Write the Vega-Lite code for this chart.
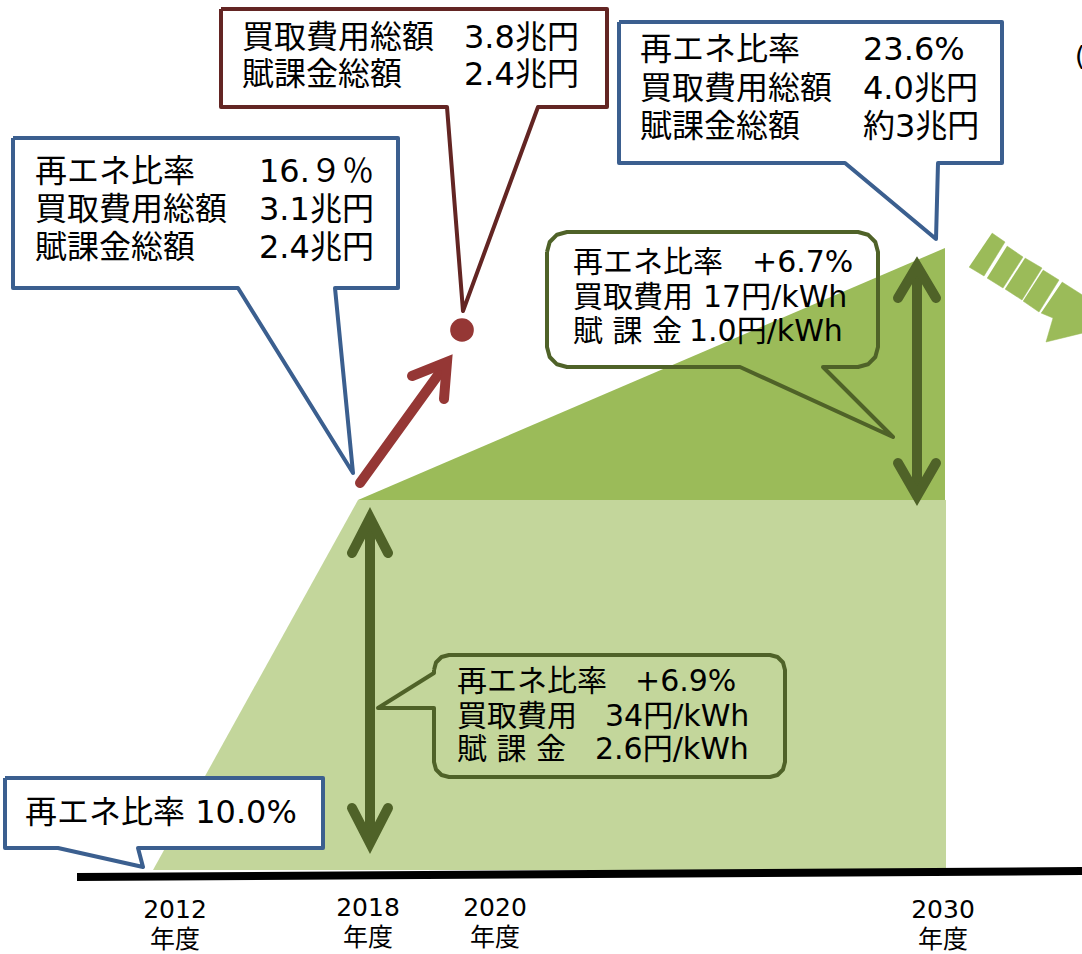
{
  "$schema": "https://vega.github.io/schema/vega-lite/v6.json",
  "width": 1082,
  "height": 954,
  "autosize": {"type": "fit", "contains": "padding"},
  "padding": 0,
  "background": "white",
  "config": {"view": {"stroke": null}},
  "datasets": {
    "areas": [
      {"region": "base", "x": 153, "y": 870, "y2": 870},
      {"region": "base", "x": 358, "y": 500, "y2": 870},
      {"region": "base", "x": 946, "y": 500, "y2": 870},
      {"region": "growth", "x": 358, "y": 500, "y2": 500},
      {"region": "growth", "x": 945, "y": 248, "y2": 500}
    ],
    "baseline": [
      {"x": 77, "y": 877},
      {"x": 1082, "y": 871}
    ],
    "chevron": [
      {"id": "s1", "i": 1, "x": 992, "y": 233}, {"id": "s1", "i": 2, "x": 1005, "y": 242}, {"id": "s1", "i": 3, "x": 984, "y": 276}, {"id": "s1", "i": 4, "x": 969, "y": 267},
      {"id": "s2", "i": 1, "x": 1007, "y": 246}, {"id": "s2", "i": 2, "x": 1023, "y": 257}, {"id": "s2", "i": 3, "x": 1003, "y": 288}, {"id": "s2", "i": 4, "x": 987, "y": 278},
      {"id": "s3", "i": 1, "x": 1025, "y": 258}, {"id": "s3", "i": 2, "x": 1042, "y": 268}, {"id": "s3", "i": 3, "x": 1022, "y": 300}, {"id": "s3", "i": 4, "x": 1005, "y": 289},
      {"id": "s4", "i": 1, "x": 1043, "y": 270}, {"id": "s4", "i": 2, "x": 1059, "y": 280}, {"id": "s4", "i": 3, "x": 1039, "y": 312}, {"id": "s4", "i": 4, "x": 1023, "y": 301},
      {"id": "s5", "i": 1, "x": 1062, "y": 282}, {"id": "s5", "i": 2, "x": 1095, "y": 303}, {"id": "s5", "i": 3, "x": 1095, "y": 330}, {"id": "s5", "i": 4, "x": 1046, "y": 342}, {"id": "s5", "i": 5, "x": 1053, "y": 318}, {"id": "s5", "i": 6, "x": 1041, "y": 313}
    ],
    "callouts": [
      {"id": "c2018", "kind": "milestone", "i": 1, "x": 13, "y": 138}, {"id": "c2018", "kind": "milestone", "i": 2, "x": 398, "y": 138}, {"id": "c2018", "kind": "milestone", "i": 3, "x": 398, "y": 288}, {"id": "c2018", "kind": "milestone", "i": 4, "x": 335, "y": 288}, {"id": "c2018", "kind": "milestone", "i": 5, "x": 353, "y": 473}, {"id": "c2018", "kind": "milestone", "i": 6, "x": 238, "y": 288}, {"id": "c2018", "kind": "milestone", "i": 7, "x": 13, "y": 288}, {"id": "c2018", "kind": "milestone", "i": 8, "x": 13, "y": 138},
      {"id": "c2030", "kind": "milestone", "i": 1, "x": 619, "y": 22}, {"id": "c2030", "kind": "milestone", "i": 2, "x": 1002, "y": 22}, {"id": "c2030", "kind": "milestone", "i": 3, "x": 1002, "y": 163}, {"id": "c2030", "kind": "milestone", "i": 4, "x": 938, "y": 163}, {"id": "c2030", "kind": "milestone", "i": 5, "x": 936, "y": 239}, {"id": "c2030", "kind": "milestone", "i": 6, "x": 845, "y": 163}, {"id": "c2030", "kind": "milestone", "i": 7, "x": 619, "y": 163}, {"id": "c2030", "kind": "milestone", "i": 8, "x": 619, "y": 22},
      {"id": "c2012", "kind": "milestone", "i": 1, "x": 5, "y": 778}, {"id": "c2012", "kind": "milestone", "i": 2, "x": 323, "y": 778}, {"id": "c2012", "kind": "milestone", "i": 3, "x": 323, "y": 848}, {"id": "c2012", "kind": "milestone", "i": 4, "x": 138, "y": 848}, {"id": "c2012", "kind": "milestone", "i": 5, "x": 143, "y": 867}, {"id": "c2012", "kind": "milestone", "i": 6, "x": 58, "y": 848}, {"id": "c2012", "kind": "milestone", "i": 7, "x": 5, "y": 848}, {"id": "c2012", "kind": "milestone", "i": 8, "x": 5, "y": 778},
      {"id": "c2020", "kind": "estimate", "i": 1, "x": 221, "y": 9}, {"id": "c2020", "kind": "estimate", "i": 2, "x": 607, "y": 9}, {"id": "c2020", "kind": "estimate", "i": 3, "x": 607, "y": 107}, {"id": "c2020", "kind": "estimate", "i": 4, "x": 538, "y": 107}, {"id": "c2020", "kind": "estimate", "i": 5, "x": 463, "y": 311}, {"id": "c2020", "kind": "estimate", "i": 6, "x": 447, "y": 107}, {"id": "c2020", "kind": "estimate", "i": 7, "x": 221, "y": 107}, {"id": "c2020", "kind": "estimate", "i": 8, "x": 221, "y": 9}
    ],
    "notes": [
      {"id": "n1", "i": 1, "x": 547, "y": 252}, {"id": "n1", "i": 2, "x": 549.7, "y": 242}, {"id": "n1", "i": 3, "x": 557, "y": 234.7}, {"id": "n1", "i": 4, "x": 567, "y": 232},
      {"id": "n1", "i": 5, "x": 858, "y": 232}, {"id": "n1", "i": 6, "x": 868, "y": 234.7}, {"id": "n1", "i": 7, "x": 875.3, "y": 242}, {"id": "n1", "i": 8, "x": 878, "y": 252},
      {"id": "n1", "i": 9, "x": 878, "y": 347}, {"id": "n1", "i": 10, "x": 875.3, "y": 357}, {"id": "n1", "i": 11, "x": 868, "y": 364.3}, {"id": "n1", "i": 12, "x": 858, "y": 367},
      {"id": "n1", "i": 13, "x": 823, "y": 367}, {"id": "n1", "i": 14, "x": 893, "y": 437}, {"id": "n1", "i": 15, "x": 740, "y": 367},
      {"id": "n1", "i": 16, "x": 567, "y": 367}, {"id": "n1", "i": 17, "x": 557, "y": 364.3}, {"id": "n1", "i": 18, "x": 549.7, "y": 357}, {"id": "n1", "i": 19, "x": 547, "y": 347}, {"id": "n1", "i": 20, "x": 547, "y": 252},
      {"id": "n2", "i": 1, "x": 434, "y": 670}, {"id": "n2", "i": 2, "x": 436, "y": 662.5}, {"id": "n2", "i": 3, "x": 441.5, "y": 657}, {"id": "n2", "i": 4, "x": 449, "y": 655},
      {"id": "n2", "i": 5, "x": 770, "y": 655}, {"id": "n2", "i": 6, "x": 777.5, "y": 657}, {"id": "n2", "i": 7, "x": 783, "y": 662.5}, {"id": "n2", "i": 8, "x": 785, "y": 670},
      {"id": "n2", "i": 9, "x": 785, "y": 762}, {"id": "n2", "i": 10, "x": 783, "y": 769.5}, {"id": "n2", "i": 11, "x": 777.5, "y": 775}, {"id": "n2", "i": 12, "x": 770, "y": 777},
      {"id": "n2", "i": 13, "x": 449, "y": 777}, {"id": "n2", "i": 14, "x": 441.5, "y": 775}, {"id": "n2", "i": 15, "x": 436, "y": 769.5}, {"id": "n2", "i": 16, "x": 434, "y": 762},
      {"id": "n2", "i": 17, "x": 434, "y": 708}, {"id": "n2", "i": 18, "x": 378, "y": 708}, {"id": "n2", "i": 19, "x": 434, "y": 673}, {"id": "n2", "i": 20, "x": 434, "y": 670}
    ],
    "arrows": [
      {"id": "g1s", "kind": "increase", "i": 1, "x": 370, "y": 525}, {"id": "g1s", "kind": "increase", "i": 2, "x": 370, "y": 836},
      {"id": "g1t", "kind": "increase", "i": 1, "x": 352, "y": 553}, {"id": "g1t", "kind": "increase", "i": 2, "x": 370, "y": 518}, {"id": "g1t", "kind": "increase", "i": 3, "x": 388, "y": 553},
      {"id": "g1b", "kind": "increase", "i": 1, "x": 352, "y": 808}, {"id": "g1b", "kind": "increase", "i": 2, "x": 370, "y": 843}, {"id": "g1b", "kind": "increase", "i": 3, "x": 388, "y": 808},
      {"id": "g2s", "kind": "increase", "i": 1, "x": 917, "y": 272}, {"id": "g2s", "kind": "increase", "i": 2, "x": 917, "y": 490},
      {"id": "g2t", "kind": "increase", "i": 1, "x": 898, "y": 298}, {"id": "g2t", "kind": "increase", "i": 2, "x": 917, "y": 266}, {"id": "g2t", "kind": "increase", "i": 3, "x": 936, "y": 298},
      {"id": "g2b", "kind": "increase", "i": 1, "x": 898, "y": 463}, {"id": "g2b", "kind": "increase", "i": 2, "x": 917, "y": 496}, {"id": "g2b", "kind": "increase", "i": 3, "x": 936, "y": 463},
      {"id": "rs", "kind": "estimate", "i": 1, "x": 360, "y": 483}, {"id": "rs", "kind": "estimate", "i": 2, "x": 446, "y": 364},
      {"id": "rh", "kind": "estimate", "i": 1, "x": 412, "y": 376}, {"id": "rh", "kind": "estimate", "i": 2, "x": 447, "y": 362}, {"id": "rh", "kind": "estimate", "i": 3, "x": 444, "y": 399}
    ],
    "dot": [{"x": 462, "y": 330}],
    "labels": [
      {"group": "box", "x": 35, "y": 172, "text": "再エネ比率"}, {"group": "box", "x": 259, "y": 172, "text": "16.９％"},
      {"group": "box", "x": 35, "y": 210, "text": "買取費用総額"}, {"group": "box", "x": 259, "y": 210, "text": "3.1兆円"},
      {"group": "box", "x": 35, "y": 248, "text": "賦課金総額"}, {"group": "box", "x": 259, "y": 248, "text": "2.4兆円"},
      {"group": "box", "x": 640, "y": 50, "text": "再エネ比率"}, {"group": "box", "x": 863, "y": 50, "text": "23.6%"},
      {"group": "box", "x": 640, "y": 89, "text": "買取費用総額"}, {"group": "box", "x": 863, "y": 89, "text": "4.0兆円"},
      {"group": "box", "x": 640, "y": 127, "text": "賦課金総額"}, {"group": "box", "x": 863, "y": 127, "text": "約3兆円"},
      {"group": "box", "x": 242, "y": 38, "text": "買取費用総額"}, {"group": "box", "x": 464, "y": 38, "text": "3.8兆円"},
      {"group": "box", "x": 242, "y": 75, "text": "賦課金総額"}, {"group": "box", "x": 464, "y": 75, "text": "2.4兆円"},
      {"group": "box", "x": 25, "y": 813, "text": "再エネ比率 10.0%"},
      {"group": "note", "x": 573, "y": 263, "text": "再エネ比率"}, {"group": "note", "x": 752, "y": 263, "text": "+6.7%"},
      {"group": "note", "x": 573, "y": 298, "text": "買取費用"}, {"group": "note", "x": 703, "y": 298, "text": "17円/kWh"},
      {"group": "note", "x": 573, "y": 332, "text": "賦 課 金"}, {"group": "note", "x": 689, "y": 332, "text": "1.0円/kWh"},
      {"group": "note", "x": 457, "y": 682, "text": "再エネ比率"}, {"group": "note", "x": 635, "y": 682, "text": "+6.9%"},
      {"group": "note", "x": 457, "y": 717, "text": "買取費用"}, {"group": "note", "x": 605, "y": 717, "text": "34円/kWh"},
      {"group": "note", "x": 457, "y": 750, "text": "賦 課 金"}, {"group": "note", "x": 595, "y": 750, "text": "2.6円/kWh"},
      {"group": "axis", "x": 175, "y": 910, "text": "2012"}, {"group": "axis", "x": 175, "y": 940, "text": "年度"},
      {"group": "axis", "x": 368, "y": 908, "text": "2018"}, {"group": "axis", "x": 368, "y": 938, "text": "年度"},
      {"group": "axis", "x": 495, "y": 908, "text": "2020"}, {"group": "axis", "x": 495, "y": 938, "text": "年度"},
      {"group": "axis", "x": 943, "y": 910, "text": "2030"}, {"group": "axis", "x": 943, "y": 940, "text": "年度"},
      {"group": "edge", "x": 1075, "y": 57, "text": "("}
    ]
  },
  "layer": [
    {
      "data": {"name": "areas"},
      "transform": [{"filter": "datum.region == 'base'"}],
      "mark": {"type": "area", "color": "#c3d69b", "clip": true},
      "encoding": {
        "x": {"field": "x", "type": "quantitative", "scale": {"domain": [0, 1082], "nice": false, "zero": false}, "axis": null},
        "y": {"field": "y", "type": "quantitative", "scale": {"domain": [0, 954], "nice": false, "zero": false, "reverse": true}, "axis": null},
        "y2": {"field": "y2"}
      }
    },
    {
      "data": {"name": "areas"},
      "transform": [{"filter": "datum.region == 'growth'"}],
      "mark": {"type": "area", "color": "#9bbb59", "clip": true},
      "encoding": {
        "x": {"field": "x", "type": "quantitative", "axis": null},
        "y": {"field": "y", "type": "quantitative", "axis": null},
        "y2": {"field": "y2"}
      }
    },
    {
      "data": {"name": "baseline"},
      "mark": {"type": "line", "color": "#000000", "strokeWidth": 8, "strokeCap": "butt", "clip": true},
      "encoding": {
        "x": {"field": "x", "type": "quantitative", "axis": null},
        "y": {"field": "y", "type": "quantitative", "axis": null}
      }
    },
    {
      "data": {"name": "chevron"},
      "mark": {"type": "line", "fill": "#9bbb59", "stroke": "#9bbb59", "strokeWidth": 0.5, "clip": true},
      "encoding": {
        "x": {"field": "x", "type": "quantitative", "axis": null},
        "y": {"field": "y", "type": "quantitative", "axis": null},
        "detail": {"field": "id"},
        "order": {"field": "i", "type": "quantitative"}
      }
    },
    {
      "data": {"name": "callouts"},
      "transform": [{"filter": "datum.kind == 'milestone'"}],
      "mark": {"type": "line", "fill": "white", "stroke": "#3b5f8f", "strokeWidth": 4, "strokeJoin": "round", "clip": true},
      "encoding": {
        "x": {"field": "x", "type": "quantitative", "axis": null},
        "y": {"field": "y", "type": "quantitative", "axis": null},
        "detail": {"field": "id"},
        "order": {"field": "i", "type": "quantitative"}
      }
    },
    {
      "data": {"name": "callouts"},
      "transform": [{"filter": "datum.kind == 'estimate'"}],
      "mark": {"type": "line", "fill": "white", "stroke": "#632523", "strokeWidth": 4, "strokeJoin": "round", "clip": true},
      "encoding": {
        "x": {"field": "x", "type": "quantitative", "axis": null},
        "y": {"field": "y", "type": "quantitative", "axis": null},
        "detail": {"field": "id"},
        "order": {"field": "i", "type": "quantitative"}
      }
    },
    {
      "data": {"name": "notes"},
      "mark": {"type": "line", "stroke": "#4f6228", "strokeWidth": 4, "strokeJoin": "round", "clip": true},
      "encoding": {
        "x": {"field": "x", "type": "quantitative", "axis": null},
        "y": {"field": "y", "type": "quantitative", "axis": null},
        "detail": {"field": "id"},
        "order": {"field": "i", "type": "quantitative"}
      }
    },
    {
      "data": {"name": "arrows"},
      "transform": [{"filter": "datum.kind == 'increase'"}],
      "mark": {"type": "line", "stroke": "#4f6228", "strokeWidth": 10, "strokeCap": "round", "strokeJoin": "miter", "clip": true},
      "encoding": {
        "x": {"field": "x", "type": "quantitative", "axis": null},
        "y": {"field": "y", "type": "quantitative", "axis": null},
        "detail": {"field": "id"},
        "order": {"field": "i", "type": "quantitative"}
      }
    },
    {
      "data": {"name": "arrows"},
      "transform": [{"filter": "datum.kind == 'estimate'"}],
      "mark": {"type": "line", "stroke": "#953735", "strokeWidth": 10, "strokeCap": "round", "strokeJoin": "miter", "clip": true},
      "encoding": {
        "x": {"field": "x", "type": "quantitative", "axis": null},
        "y": {"field": "y", "type": "quantitative", "axis": null},
        "detail": {"field": "id"},
        "order": {"field": "i", "type": "quantitative"}
      }
    },
    {
      "data": {"name": "dot"},
      "mark": {"type": "circle", "color": "#953735", "opacity": 1, "size": 560, "clip": true},
      "encoding": {
        "x": {"field": "x", "type": "quantitative", "axis": null},
        "y": {"field": "y", "type": "quantitative", "axis": null}
      }
    },
    {
      "data": {"name": "labels"},
      "transform": [{"filter": "datum.group == 'box'"}],
      "mark": {"type": "text", "align": "left", "baseline": "middle", "font": "DejaVu Sans, Noto Sans CJK JP", "fontSize": 32, "color": "#000000", "clip": true},
      "encoding": {
        "x": {"field": "x", "type": "quantitative", "axis": null},
        "y": {"field": "y", "type": "quantitative", "axis": null},
        "text": {"field": "text"}
      }
    },
    {
      "data": {"name": "labels"},
      "transform": [{"filter": "datum.group == 'note'"}],
      "mark": {"type": "text", "align": "left", "baseline": "middle", "font": "DejaVu Sans, Noto Sans CJK JP", "fontSize": 30, "color": "#000000", "clip": true},
      "encoding": {
        "x": {"field": "x", "type": "quantitative", "axis": null},
        "y": {"field": "y", "type": "quantitative", "axis": null},
        "text": {"field": "text"}
      }
    },
    {
      "data": {"name": "labels"},
      "transform": [{"filter": "datum.group == 'axis'"}],
      "mark": {"type": "text", "align": "center", "baseline": "middle", "font": "DejaVu Sans, Noto Sans CJK JP", "fontSize": 25, "color": "#000000", "clip": true},
      "encoding": {
        "x": {"field": "x", "type": "quantitative", "axis": null},
        "y": {"field": "y", "type": "quantitative", "axis": null},
        "text": {"field": "text"}
      }
    },
    {
      "data": {"name": "labels"},
      "transform": [{"filter": "datum.group == 'edge'"}],
      "mark": {"type": "text", "align": "left", "baseline": "middle", "font": "DejaVu Sans, Noto Sans CJK JP", "fontSize": 26, "color": "#000000", "clip": true},
      "encoding": {
        "x": {"field": "x", "type": "quantitative", "axis": null},
        "y": {"field": "y", "type": "quantitative", "axis": null},
        "text": {"field": "text"}
      }
    }
  ]
}
